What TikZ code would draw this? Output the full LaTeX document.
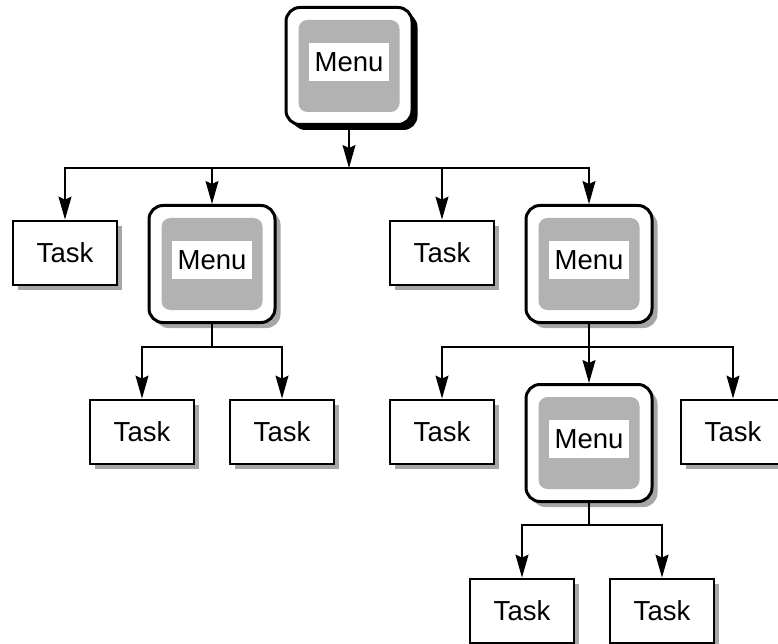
\documentclass[tikz,border=0pt]{standalone}
\usepackage{fontspec}
\setmainfont{Liberation Sans}
\usetikzlibrary{arrows.meta,shadows}
\tikzset{
  boxfont/.style={font=\fontsize{27.5}{32}\selectfont},
  task/.style={draw, line width=2.8pt, fill=white, minimum width=104pt, minimum height=64pt, boxfont,
    drop shadow={shadow xshift=5pt,shadow yshift=-5pt,fill=black!35,opacity=1}},
  menuframe/.style={draw, line width=3pt, fill=white, rounded corners=14pt, minimum width=126pt, minimum height=117pt},
  menuinner/.style={fill=black!30, rounded corners=9pt, minimum width=101pt, minimum height=92pt},
  menulabel/.style={fill=white, minimum width=80pt, minimum height=38pt, inner sep=0pt, boxfont},
  link/.style={line width=1.3pt},
  arr/.style={link, -{Stealth[length=23pt,width=13pt,inset=3pt]}}
}
% name, x, y, shadow colour
\newcommand\menubox[4]{%
  \node[menuframe, drop shadow={shadow xshift=5.5pt,shadow yshift=-5.5pt,fill=#4,opacity=1}] (#1) at (#2,#3) {};
  \node[menuinner] (#1-in) at (#1) {};
  \node[menulabel, yshift=4pt] (#1-lb) at (#1) {Menu};
}
\begin{document}
\begin{tikzpicture}[x=1pt,y=-1pt]
  \clip (0,0) rectangle (778,644);
  % top level
  \menubox{m0}{349}{66}{black}
  \node[task] (t1) at (65,253) {Task};
  \menubox{m1}{212}{264}{black!35}
  \node[task] (t2) at (442,253) {Task};
  \menubox{m2}{589}{264}{black!35}
  % second level
  \node[task] (t3) at (142,432) {Task};
  \node[task] (t4) at (282,432) {Task};
  \node[task] (t5) at (442,432) {Task};
  \menubox{m3}{589}{443}{black!35}
  \node[task] (t6) at (733,432) {Task};
  % third level
  \node[task] (t7) at (522,611) {Task};
  \node[task] (t8) at (662,611) {Task};
  % connectors
  \coordinate (b0) at (349,168);
  \coordinate (b1) at (212,347);
  \coordinate (b2) at (589,347);
  \coordinate (b3) at (589,525);
  \draw[arr] (m0) -- (b0);
  \draw[arr] (b0) -| (t1); \draw[arr] (b0) -| (m1);
  \draw[arr] (b0) -| (t2); \draw[arr] (b0) -| (m2);
  \draw[link] (m1) -- (b1);
  \draw[arr] (b1) -| (t3); \draw[arr] (b1) -| (t4);
  \draw[link] (m2) -- (b2);
  \draw[arr] (b2) -| (t5); \draw[arr] (b2) -- (m3); \draw[arr] (b2) -| (t6);
  \draw[link] (m3) -- (b3);
  \draw[arr] (b3) -| (t7); \draw[arr] (b3) -| (t8);
\end{tikzpicture}
\end{document}
